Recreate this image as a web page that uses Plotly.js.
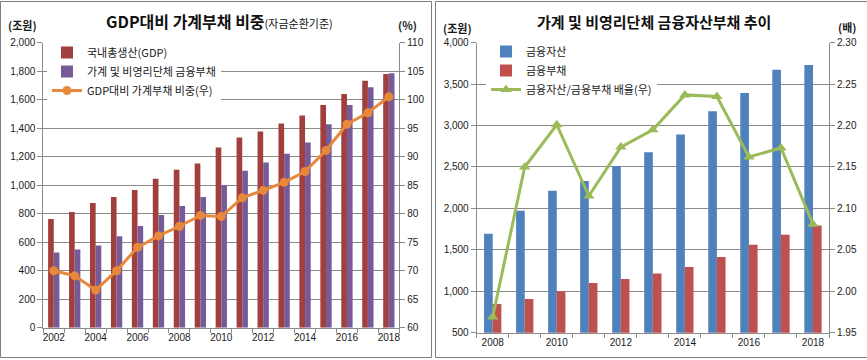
<!DOCTYPE html>
<html><head><meta charset="utf-8">
<script src="https://cdn.plot.ly/plotly-3.0.1.min.js"></script>
<style>html,body{margin:0;padding:0;background:#fff}#chart{width:867px;height:360px}</style>
</head><body><div id="chart"></div>
<script>
// ---- Left panel data ----
const yearsL = [2002,2003,2004,2005,2006,2007,2008,2009,2010,2011,2012,2013,2014,2015,2016,2017,2018];
const gdp = [762,812,875,918,967,1045,1108,1153,1264,1334,1376,1433,1489,1563,1640,1733,1780];
const hhDebtL = [528,549,577,642,713,791,854,918,1000,1101,1160,1221,1299,1428,1563,1687,1786];
const debtToGdp = [70.0,69.1,66.6,70.0,74.1,76.1,77.8,79.7,79.5,82.8,84.1,85.5,87.4,91.1,95.7,97.7,100.5];
const xTicksL = [2002,2004,2006,2008,2010,2012,2014,2016,2018];

// ---- Right panel data ----
const yearsR = [2008,2009,2010,2011,2012,2013,2014,2015,2016,2017,2018];
const finAssets = [1694,1972,2212,2332,2512,2679,2892,3172,3392,3675,3732];
const finDebts = [847,907,1000,1101,1149,1214,1294,1415,1560,1681,1793];
const assetDebtRatio = [1.969,2.150,2.201,2.115,2.174,2.195,2.237,2.235,2.162,2.173,2.081];
const xTicksR = [2008,2010,2012,2014,2016,2018];

const W = 867, H = 360;
const px = x => x / W;
const py = y => 1 - y / H;

const FONT = '"Noto Sans CJK KR", "Liberation Sans", sans-serif';
const NUMFONT = '"Liberation Sans", Arial, sans-serif';
const GRID = '#8a8a8a';
const AXL = '#8a8a8a';

const traces = [
  {type:'bar', name:'국내총생산(GDP)', x:yearsL, y:gdp, xaxis:'x', yaxis:'y',
   marker:{color:'#A03F3D'}, legend:'legend'},
  {type:'bar', name:'가계 및 비영리단체 금융부채', x:yearsL, y:hhDebtL, xaxis:'x', yaxis:'y',
   marker:{color:'#775B99'}, legend:'legend'},
  {type:'scatter', mode:'lines+markers', name:'GDP대비 가계부채 비중(우)', x:yearsL, y:debtToGdp,
   xaxis:'x', yaxis:'y2', line:{color:'#E8883A', width:3}, marker:{color:'#E8883A', size:9, symbol:'circle'},
   legend:'legend'},
  {type:'bar', name:'금융자산', x:yearsR, y:finAssets, xaxis:'x2', yaxis:'y3',
   marker:{color:'#4F81BD'}, legend:'legend2'},
  {type:'bar', name:'금융부채', x:yearsR, y:finDebts, xaxis:'x2', yaxis:'y3',
   marker:{color:'#C0504D'}, legend:'legend2'},
  {type:'scatter', mode:'lines+markers', name:'금융자산/금융부채 배율(우)', x:yearsR, y:assetDebtRatio,
   xaxis:'x2', yaxis:'y4', line:{color:'#9BBB59', width:3}, marker:{color:'#9BBB59', size:10, symbol:'triangle-up'},
   legend:'legend2'}
];

const tickFont = {family:NUMFONT, size:10, color:'#1a1a1a'};
const xCommon = {
  showgrid:false, zeroline:false, showline:true, linecolor:AXL, linewidth:1,
  ticks:'', tickfont:tickFont, fixedrange:true,
  minor:{ticks:'outside', dtick:1, ticklen:4, tickcolor:AXL, showgrid:false}
};
const yCommon = {
  showgrid:true, gridcolor:GRID, gridwidth:1, zeroline:false, showline:true, linecolor:AXL,
  ticks:'outside', ticklen:5, tickcolor:AXL, tickfont:tickFont, fixedrange:true
};
const legFont = {family:FONT, size:11, color:'#1a1a1a'};

const layout = {
  width:W, height:H, margin:{l:0,r:0,t:0,b:0}, paper_bgcolor:'#fff', plot_bgcolor:'#fff',
  barmode:'group', bargap:0.46, bargroupgap:0,
  font:{family:FONT, color:'#1a1a1a'},
  xaxis: Object.assign({}, xCommon, {domain:[px(43.3), px(399.3)], anchor:'y', range:[2001.5,2018.5],
    tickmode:'array', tickvals:xTicksL, ticktext:xTicksL.map(String),
    minor:Object.assign({}, xCommon.minor, {tick0:2001.5})}),
  yaxis: Object.assign({}, yCommon, {domain:[py(327.7), py(42.7)], anchor:'x', range:[0,2000], dtick:200, tickformat:','}),
  yaxis2: Object.assign({}, yCommon, {overlaying:'y', side:'right', anchor:'x', range:[60,110], dtick:5, showgrid:false}),
  xaxis2: Object.assign({}, xCommon, {domain:[px(476.7), px(829)], anchor:'y3', range:[2007.5,2018.5],
    tickmode:'array', tickvals:xTicksR, ticktext:xTicksR.map(String),
    minor:Object.assign({}, xCommon.minor, {tick0:2007.5})}),
  yaxis3: Object.assign({}, yCommon, {domain:[py(332.7), py(42.7)], anchor:'x2', range:[500,4000], dtick:500, tickformat:','}),
  yaxis4: Object.assign({}, yCommon, {overlaying:'y3', side:'right', anchor:'x2', range:[1.95,2.30], dtick:0.05, tickformat:'.2f', showgrid:false}),
  legend:{x:px(47), y:py(38), xanchor:'left', yanchor:'top', bgcolor:'#ffffff',
    font:legFont, traceorder:'normal', itemwidth:30, tracegroupgap:0},
  legend2:{x:px(486), y:py(37), xanchor:'left', yanchor:'top', bgcolor:'#ffffff',
    font:legFont, traceorder:'normal', itemwidth:30, tracegroupgap:0},
  showlegend:true,
  annotations:[
    {xref:'paper', yref:'paper', x:px(219), y:py(21), xanchor:'center', yanchor:'middle', showarrow:false,
     text:'<b>GDP대비 가계부채 비중</b><span style="font-size:11px">(자금순환기준)</span>',
     font:{family:FONT, size:16, color:'#111'}},
    {xref:'paper', yref:'paper', x:px(654), y:py(21), xanchor:'center', yanchor:'middle', showarrow:false,
     text:'<b>가계 및 비영리단체 금융자산부채 추이</b>', font:{family:FONT, size:15, color:'#111'}},
    {xref:'paper', yref:'paper', x:px(22), y:py(25), xanchor:'center', yanchor:'middle', showarrow:false,
     text:'<b>(조원)</b>', font:{family:FONT, size:11, color:'#1a1a1a'}},
    {xref:'paper', yref:'paper', x:px(407), y:py(25), xanchor:'center', yanchor:'middle', showarrow:false,
     text:'<b>(%)</b>', font:{family:FONT, size:11, color:'#1a1a1a'}},
    {xref:'paper', yref:'paper', x:px(458), y:py(28), xanchor:'center', yanchor:'middle', showarrow:false,
     text:'<b>(조원)</b>', font:{family:FONT, size:11, color:'#1a1a1a'}},
    {xref:'paper', yref:'paper', x:px(847), y:py(27), xanchor:'center', yanchor:'middle', showarrow:false,
     text:'<b>(배)</b>', font:{family:FONT, size:11, color:'#1a1a1a'}}
  ],
  shapes:[
    {type:'rect', xref:'paper', yref:'paper', x0:px(0.5), x1:px(431.5), y0:py(357.5), y1:py(1.5),
     line:{color:'#7f7f7f', width:1}},
    {type:'rect', xref:'paper', yref:'paper', x0:px(435.5), x1:px(870), y0:py(357.5), y1:py(1.5),
     line:{color:'#7f7f7f', width:1}}
  ]
};

Plotly.newPlot('chart', traces, layout, {displayModeBar:false, staticPlot:true});
</script></body></html>
